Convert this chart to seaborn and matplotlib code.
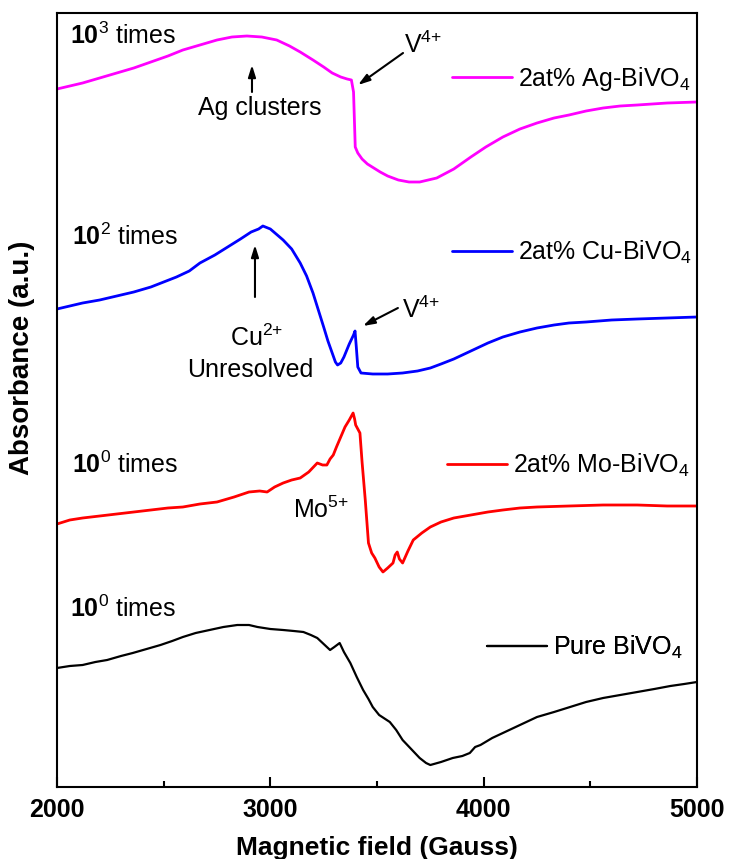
"""
EPR spectra of doped BiVO4 samples, stacked with offsets.
"""

import matplotlib
matplotlib.use('Agg')
import matplotlib.pyplot as plt
import seaborn as sns

# ---------------------------------------------------------------------------
# data (field in Gauss, absorbance in arbitrary units,
# curves already vertically offset as in the original plot)
# ---------------------------------------------------------------------------
ag_field = [2000, 2060, 2120, 2200, 2280, 2360, 2440, 2520, 2590, 2670, 2750,
            2820, 2890, 2960, 3030, 3090, 3140, 3200, 3250, 3290, 3330, 3360,
            3380, 3390, 3398, 3410, 3430, 3455, 3485, 3515, 3550, 3600, 3650,
            3700, 3780, 3860, 3940, 4010, 4090, 4170, 4250, 4330, 4400, 4480,
            4560, 4640, 4720, 4860, 5000]
ag_abs = [698, 701, 704, 709, 714, 719, 725, 731, 737, 742, 747,
          750, 751, 750, 747, 741, 735, 727, 720, 714, 710, 708,
          707, 695, 640, 634, 628, 623, 619, 615, 611, 607, 605,
          605, 609, 618, 630, 640, 650, 658, 664, 669, 672, 676,
          679, 681, 682, 684, 685]

cu_field = [2000, 2060, 2120, 2200, 2280, 2360, 2440, 2500, 2560, 2620, 2670,
            2740, 2800, 2860, 2910, 2945, 2965, 3000, 3060, 3100, 3140, 3170,
            3200, 3225, 3250, 3270, 3290, 3305, 3315, 3330, 3345, 3370, 3390,
            3397, 3403, 3410, 3425, 3480, 3550, 3620, 3690, 3750, 3800, 3860,
            3940, 4020, 4090, 4170, 4250, 4330, 4400, 4480, 4600, 4720, 4860,
            5000]
cu_abs = [478, 481, 484, 487, 491, 495, 500, 505, 510, 516, 524,
          532, 540, 548, 555, 558, 561, 558, 547, 538, 524, 511,
          494, 477, 460, 446, 434, 425, 422, 424, 430, 443, 452,
          456, 440, 420, 414, 413, 413, 414, 416, 419, 423, 428,
          436, 444, 450, 455, 459, 462, 464, 465, 467, 468, 469,
          470]

mo_field = [2000, 2060, 2120, 2200, 2280, 2360, 2440, 2520, 2590, 2670, 2750,
            2830, 2900, 2950, 2985, 3020, 3060, 3100, 3140, 3180, 3220, 3245,
            3265, 3280, 3295, 3310, 3330, 3350, 3370, 3388, 3395, 3400, 3410,
            3420, 3430, 3445, 3460, 3475, 3490, 3510, 3528, 3550, 3575, 3585,
            3595, 3605, 3620, 3645, 3670, 3710, 3750, 3800, 3860, 3940, 4020,
            4090, 4170, 4250, 4400, 4560, 4720, 4860, 5000]
mo_abs = [263, 267, 269, 271, 273, 275, 277, 279, 280, 283, 285,
          290, 295, 296, 295, 300, 304, 307, 309, 315, 324, 322,
          322, 328, 332, 340, 350, 360, 367, 374, 368, 362, 358,
          354, 325, 287, 244, 234, 229, 220, 215, 219, 224, 232,
          235, 228, 224, 236, 247, 254, 260, 265, 269, 272, 275,
          277, 279, 280, 281, 282, 282, 281, 281]

pure_field = [2000, 2060, 2120, 2180, 2235, 2300, 2355, 2420, 2485, 2540, 2590,
              2650, 2715, 2780, 2845, 2900, 2940, 3000, 3060, 3110, 3155, 3190,
              3220, 3250, 3280, 3300, 3325, 3345, 3375, 3405, 3435, 3460, 3480,
              3510, 3560, 3590, 3620, 3660, 3700, 3730, 3750, 3800, 3855, 3900,
              3935, 3960, 3985, 4040, 4090, 4170, 4250, 4330, 4405, 4480, 4560,
              4640, 4720, 4800, 4875, 4940, 5000]
pure_abs = [119, 121, 122, 125, 127, 131, 134, 138, 142, 146, 150,
            154, 157, 160, 162, 162, 160, 158, 157, 156, 155, 152,
            149, 143, 137, 140, 144, 135, 124, 110, 97, 88, 80,
            72, 65, 57, 47, 38, 29, 24, 22, 25, 29, 31,
            34, 40, 42, 49, 54, 62, 70, 75, 80, 85, 89,
            92, 95, 98, 101, 103, 105]

labels = ['2at% Ag-BiVO$_4$', '2at% Cu-BiVO$_4$', '2at% Mo-BiVO$_4$', 'Pure BiVO$_4$']
colors = ['#ff00ff', '#0000ff', '#ff0000', '#000000']
scales = [r'$\mathbf{10}^{3}$ times', r'$\mathbf{10}^{2}$ times',
          r'$\mathbf{10}^{0}$ times', r'$\mathbf{10}^{0}$ times']

# Set style
sns.set_style('ticks')
plt.rcParams['font.family'] = ['Liberation Sans', 'DejaVu Sans']
plt.rcParams['mathtext.fontset'] = 'custom'
plt.rcParams['mathtext.rm'] = 'Liberation Sans'
plt.rcParams['mathtext.it'] = 'Liberation Sans:italic'
plt.rcParams['mathtext.bf'] = 'Liberation Sans:bold'
plt.rcParams['text.color'] = 'black'
plt.rcParams['axes.labelcolor'] = 'black'
plt.rcParams['axes.edgecolor'] = 'black'
plt.rcParams['xtick.color'] = 'black'


def main():
    fig = plt.figure(figsize=(7.29, 8.59), dpi=100)
    ax = fig.add_axes([57 / 729, 72 / 859, 640 / 729, 774 / 859])

    series = [(ag_field, ag_abs), (cu_field, cu_abs),
              (mo_field, mo_abs), (pure_field, pure_abs)]
    widths = [2.0, 2.0, 2.0, 1.6]
    lines = []
    for (xs, ys), c, lw, lab in zip(series, colors, widths, labels):
        sns.lineplot(x=xs, y=ys, color=c, lw=lw, ax=ax, sort=False)
        lines.append((ax.lines[-1], lab))

    # one small legend next to each curve
    legend_pos = [(0.617, 0.915), (0.617, 0.691), (0.609, 0.416), (0.672, 0.181)]
    for (ln, lab), pos in zip(lines, legend_pos):
        leg = ax.legend([ln], [lab], loc='center left', bbox_to_anchor=pos,
                        frameon=False, fontsize=18, handlelength=2.4,
                        handletextpad=0.25, borderpad=0, borderaxespad=0)
        ax.add_artist(leg)

    # magnification notes
    scale_pos = [(2061, 751), (2070, 550), (2070, 322), (2061, 178)]
    for txt, (x, y) in zip(scales, scale_pos):
        ax.text(x, y, txt, fontsize=18, ha='left', va='center')

    arrow = dict(arrowstyle='-|>,head_width=0.22,head_length=0.7',
                 color='black', lw=1.5, shrinkA=0, shrinkB=0)

    # Ag-BiVO4 annotations
    ax.text(2952, 679, 'Ag clusters', fontsize=18, ha='center', va='center')
    ax.annotate('', xy=(2914, 722), xytext=(2914, 695), arrowprops=arrow)
    ax.text(3625, 742, r'V$^{4{+}}$', fontsize=18, ha='left', va='center')
    ax.annotate('', xy=(3411, 702), xytext=(3622, 734), arrowprops=arrow)

    # Cu-BiVO4 annotations
    ax.text(2937, 449, r'Cu$^{2{+}}$', fontsize=18, ha='center', va='center')
    ax.text(2905, 417, 'Unresolved', fontsize=18, ha='center', va='center')
    ax.annotate('', xy=(2928, 542), xytext=(2928, 490), arrowprops=arrow)
    ax.text(3617, 477, r'V$^{4{+}}$', fontsize=18, ha='left', va='center')
    ax.annotate('', xy=(3434, 461), xytext=(3598, 479), arrowprops=arrow)

    # Mo-BiVO4 annotation
    ax.text(3106, 277, r'Mo$^{5{+}}$', fontsize=18, ha='left', va='center')

    ax.set_xlim(2000, 5000)
    ax.set_ylim(0, 774)
    ax.set_xticks([2000, 3000, 4000, 5000])
    ax.set_xticks([2500, 3500, 4500], minor=True)
    ax.set_yticks([])
    ax.tick_params(axis='x', which='major', direction='in', length=7,
                   width=1.5, pad=8, labelsize=18)
    ax.tick_params(axis='x', which='minor', direction='in', length=4, width=1.5)
    for lbl in ax.get_xticklabels():
        lbl.set_fontweight('bold')
    for sp in ax.spines.values():
        sp.set_linewidth(1.5)
        sp.set_visible(True)

    ax.set_xlabel('Magnetic field (Gauss)', fontsize=19, fontweight='bold', labelpad=10)
    ax.set_ylabel('Absorbance (a.u.)', fontsize=20, fontweight='bold')
    ax.yaxis.set_label_coords(-0.034, 0.554)

    fig.savefig('out.png', dpi=100)
    plt.close(fig)


if __name__ == "__main__":
    main()
